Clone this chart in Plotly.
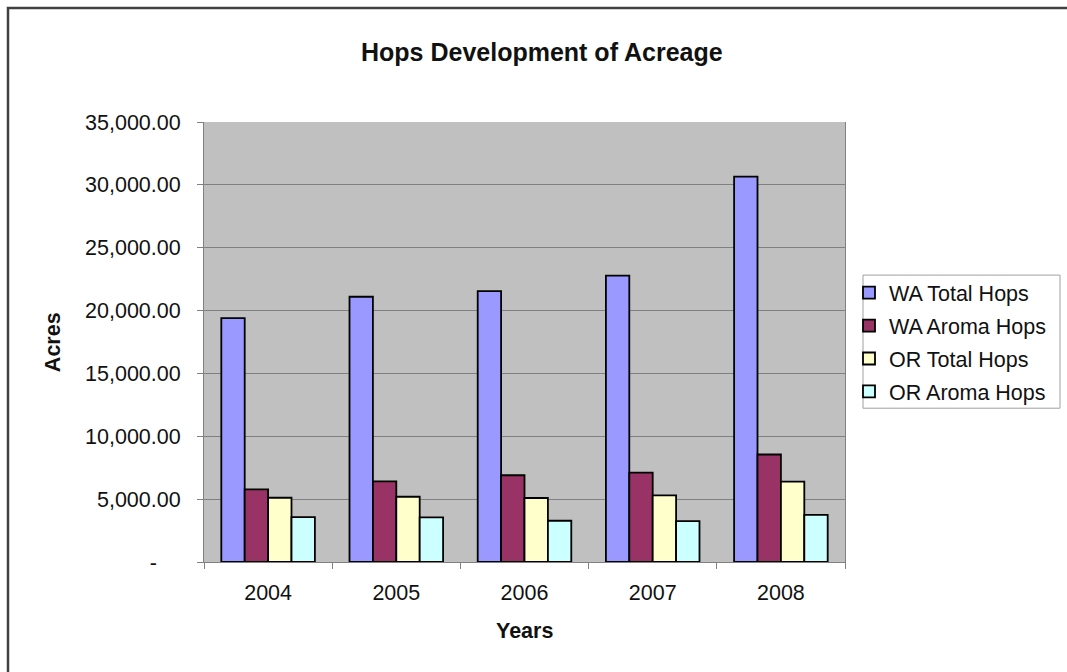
import plotly.graph_objects as go

years = ["2004", "2005", "2006", "2007", "2008"]
wa_total = [19400, 21100, 21550, 22780, 30650]
wa_aroma = [5780, 6420, 6900, 7110, 8550]
or_total = [5110, 5190, 5090, 5300, 6390]
or_aroma = [3570, 3550, 3280, 3250, 3750]

series_names = ["WA Total Hops", "WA Aroma Hops", "OR Total Hops", "OR Aroma Hops"]
series_values = [wa_total, wa_aroma, or_total, or_aroma]
series_colors = ["#9999FF", "#993366", "#FFFFCC", "#CCFFFF"]

y_tickvals = [0, 5000, 10000, 15000, 20000, 25000, 30000, 35000]
y_ticktext = ["-\u00a0\u00a0\u00a0\u00a0", "5,000.00", "10,000.00", "15,000.00", "20,000.00",
              "25,000.00", "30,000.00", "35,000.00"]

W, H = 1067, 672
L, R, T, B = 204, 845, 122, 561.7

def px_x(p):
    return (p - L) / (R - L)

def px_y(p):
    return (B - p) / (B - T)

FONT = "Liberation Sans, Arial, sans-serif"
FS = 21.5

fig = go.Figure()
for i, (name, vals, col) in enumerate(zip(series_names, series_values, series_colors)):
    fig.add_trace(go.Bar(
        x=years, y=vals, name=name, legendgroup=f"g{i}",
        marker=dict(color=col, line=dict(color="#000000", width=1.8)),
    ))

fig.update_layout(
    width=W, height=H,
    margin=dict(l=L, r=W - R, t=T, b=H - B, pad=0),
    paper_bgcolor="white",
    plot_bgcolor="#C0C0C0",
    barmode="group", bargap=0.27, bargroupgap=0,
    font=dict(family=FONT, size=FS, color="#111111"),
    showlegend=True,
    legend=dict(
        x=px_x(849), y=px_y(272), xanchor="left", yanchor="top",
        borderwidth=0, bgcolor="rgba(0,0,0,0)",
        font=dict(family=FONT, size=FS, color="#111111"),
        itemwidth=30, tracegroupgap=2,
    ),
    xaxis=dict(
        type="category", showgrid=False,
        ticks="outside", ticklen=6, tickcolor="#808080", tickson="boundaries",
        showline=True, linecolor="#808080", linewidth=1,
        tickfont=dict(size=FS), ticklabelstandoff=11, fixedrange=True,
    ),
    yaxis=dict(
        range=[0, 35000], tickvals=y_tickvals, ticktext=y_ticktext,
        showgrid=True, gridcolor="#808080", gridwidth=1,
        ticks="outside", ticklen=6, tickcolor="#808080",
        showline=True, linecolor="#808080", linewidth=1, mirror=True,
        zeroline=False, tickfont=dict(size=FS), ticklabelstandoff=12,
        fixedrange=True,
    ),
    annotations=[
        dict(text="<b>Hops Development of Acreage</b>", xref="paper", yref="paper",
             x=px_x(542), y=px_y(52), showarrow=False, xanchor="center", yanchor="middle",
             font=dict(size=25, family=FONT, color="#111111")),
        dict(text="<b>Acres</b>", xref="paper", yref="paper",
             x=px_x(53), y=px_y(342), showarrow=False, xanchor="center", yanchor="middle",
             textangle=-90, font=dict(size=FS, family=FONT, color="#111111")),
        dict(text="<b>Years</b>", xref="paper", yref="paper",
             x=px_x(524), y=px_y(631), showarrow=False, xanchor="center", yanchor="middle",
             font=dict(size=FS, family=FONT, color="#111111")),
    ],
    shapes=[
        dict(type="path", xref="paper", yref="paper",
             path=f"M {px_x(8)} {px_y(700)} L {px_x(8)} {px_y(8)} L {px_x(1100)} {px_y(8)}",
             line=dict(color="#404040", width=2.5)),
        dict(type="rect", xref="paper", yref="paper",
             x0=px_x(863), x1=px_x(1060), y0=px_y(275), y1=px_y(408),
             line=dict(color="#A0A0A0", width=1)),
    ],
)

fig.write_html("out.html", config={"displayModeBar": False})
